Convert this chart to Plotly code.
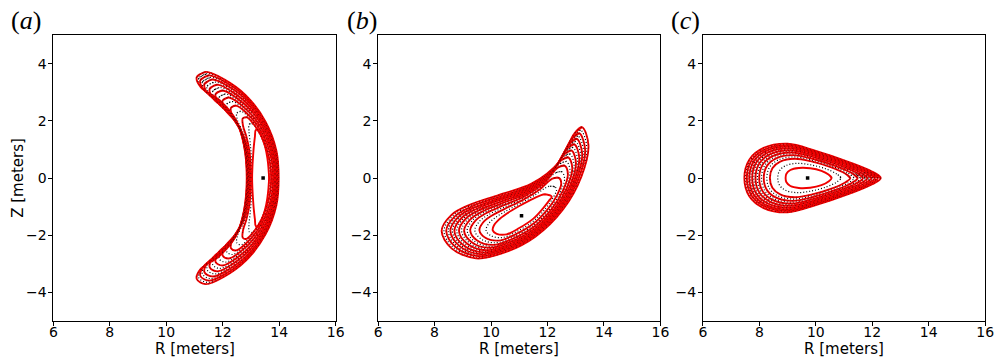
import plotly.graph_objects as go

# ---------------- data ----------------
# Panel (a): outermost surface (R, Z) and innermost surface (same point order)
A_OUT_R = [11.08, 11.40, 12.05, 12.82, 13.52, 13.90, 13.98, 13.90, 13.52, 12.82, 12.05,
           11.40, 11.08, 11.22, 11.89, 12.47, 12.75, 12.85, 12.75, 12.47, 11.89, 11.22]
A_OUT_Z = [3.53, 3.71, 3.45, 2.89, 1.96, 0.95, 0.00, -0.95, -1.96, -2.89, -3.45,
           -3.71, -3.53, -3.18, -2.72, -2.02, -1.15, 0.00, 1.15, 2.02, 2.72, 3.18]
A_IN_R = [13.17, 13.25, 13.38, 13.50, 13.58, 13.62, 13.64, 13.62, 13.58, 13.50, 13.38,
          13.25, 13.17, 13.14, 13.10, 13.07, 13.05, 13.04, 13.05, 13.07, 13.10, 13.14]
A_IN_Z = [1.68, 1.68, 1.45, 1.10, 0.70, 0.35, 0.00, -0.35, -0.70, -1.10, -1.45,
          -1.68, -1.68, -1.45, -1.10, -0.70, -0.35, 0.00, 0.35, 0.70, 1.10, 1.45]
A_AXIS = (13.43, 0.0)
A_LEVELS = [0.0, 0.22, 0.42, 0.56, 0.68, 0.78, 0.87, 0.94, 1.0]

# Panel (b)
B_OUT_R = [13.22, 12.95, 12.40, 11.45, 10.29, 9.24, 8.60, 8.25, 8.60, 9.47, 10.41,
           11.57, 12.55, 13.20, 13.45]
B_OUT_Z = [1.78, 1.55, 0.55, -0.19, -0.59, -0.94, -1.29, -1.85, -2.46, -2.81, -2.63,
           -2.05, -1.10, 0.05, 1.15]
B_IN_R = [12.12, 11.90, 11.50, 11.00, 10.55, 10.25, 10.10, 10.06, 10.20, 10.55, 11.00,
          11.50, 11.85, 12.05, 12.15]
B_IN_Z = [-0.62, -0.57, -0.72, -0.98, -1.25, -1.48, -1.66, -1.83, -1.95, -1.97, -1.75,
          -1.42, -1.05, -0.80, -0.66]
B_AXIS = (11.08, -1.32)
B_LEVELS = [0.0, 0.26, 0.44, 0.56, 0.66, 0.75, 0.83, 0.91, 1.0]

# Panel (c)
C_OUT_R = [12.30, 12.00, 11.20, 10.00, 9.00, 8.15, 7.65, 7.47, 7.65, 8.15, 9.00,
           10.00, 11.20, 12.00]
C_OUT_Z = [0.00, 0.22, 0.55, 0.95, 1.20, 1.05, 0.65, 0.00, -0.65, -1.05, -1.20,
           -0.95, -0.55, -0.22]
C_IN_R = [10.56, 10.45, 10.20, 9.80, 9.40, 9.10, 8.96, 8.93, 8.96, 9.10, 9.40,
          9.80, 10.20, 10.45]
C_IN_Z = [0.00, 0.12, 0.25, 0.34, 0.35, 0.28, 0.15, 0.00, -0.15, -0.28, -0.35,
          -0.34, -0.25, -0.12]
C_AXIS = (9.71, 0.0)
C_LEVELS = [0.0, 0.38, 0.53, 0.64, 0.73, 0.81, 0.88, 0.94, 1.0]

PANEL_LABELS = ["a", "b", "c"]
X_TICKS = [6, 8, 10, 12, 14, 16]
Y_TICKS = [-4, -2, 0, 2, 4]
Y_TICKTEXT = ["\u22124", "\u22122", "0", "2", "4"]
X_TITLE = "R [meters]"
Y_TITLE = "Z [meters]"

panels = [
    (A_OUT_R, A_OUT_Z, A_IN_R, A_IN_Z, A_AXIS, A_LEVELS),
    (B_OUT_R, B_OUT_Z, B_IN_R, B_IN_Z, B_AXIS, B_LEVELS),
    (C_OUT_R, C_OUT_Z, C_IN_R, C_IN_Z, C_AXIS, C_LEVELS),
]

W, H = 1008, 358
PLOT_X = [(50, 336), (379, 665), (708, 994)]
PLOT_TOP, PLOT_BOT = 35, 321


def surface(out_r, out_z, in_r, in_z, f):
    r = [a + f * (b - a) for a, b in zip(in_r, out_r)]
    z = [a + f * (b - a) for a, b in zip(in_z, out_z)]
    # wrap so the spline closes smoothly
    return r + r[:2], z + z[:2]


fig = go.Figure()
for i, (oR, oZ, iR, iZ, ax, levels) in enumerate(panels):
    xa = "x" if i == 0 else f"x{i+1}"
    ya = "y" if i == 0 else f"y{i+1}"
    # black dotted curves between the red ones
    for k in range(len(levels) - 1):
        f = 0.5 * (levels[k] + levels[k + 1])
        r, z = surface(oR, oZ, iR, iZ, f)
        fig.add_trace(go.Scatter(x=r, y=z, mode="lines", xaxis=xa, yaxis=ya,
                                 line=dict(color="black", width=1.2, dash="1px,2px",
                                           shape="spline", smoothing=1.0),
                                 hoverinfo="skip", showlegend=False))
    for f in levels:
        r, z = surface(oR, oZ, iR, iZ, f)
        fig.add_trace(go.Scatter(x=r, y=z, mode="lines", xaxis=xa, yaxis=ya,
                                 line=dict(color="#f00000", width=1.9,
                                           shape="spline", smoothing=1.0),
                                 hoverinfo="skip", showlegend=False))
    # dark points overlaid on the red curves, as in the mixed red/black Poincare points
    for f in levels[1:]:
        r, z = surface(oR, oZ, iR, iZ, f)
        fig.add_trace(go.Scatter(x=r, y=z, mode="lines", xaxis=xa, yaxis=ya,
                                 line=dict(color="rgba(40,0,0,0.6)", width=0.9, dash="1px,3px",
                                           shape="spline", smoothing=1.0),
                                 hoverinfo="skip", showlegend=False))
    fig.add_trace(go.Scatter(x=[ax[0]], y=[ax[1]], mode="markers", xaxis=xa, yaxis=ya,
                             marker=dict(symbol="square", size=3.5, color="black"),
                             hoverinfo="skip", showlegend=False))

tickfont = dict(family="DejaVu Sans", size=14, color="black")
titlefont = dict(family="DejaVu Sans", size=15, color="black")
layout = dict(width=W, height=H, margin=dict(l=0, r=0, t=0, b=0),
              paper_bgcolor="white", plot_bgcolor="white", showlegend=False)
for i in range(3):
    xk = "xaxis" if i == 0 else f"xaxis{i+1}"
    yk = "yaxis" if i == 0 else f"yaxis{i+1}"
    x0, x1 = PLOT_X[i]
    layout[xk] = dict(domain=[x0 / W, x1 / W], range=[6, 16], anchor="y" if i == 0 else f"y{i+1}",
                      tickvals=X_TICKS, ticktext=[str(v) for v in X_TICKS],
                      ticks="outside", ticklen=4, tickwidth=1, tickcolor="black",
                      ticklabelstandoff=-6,
                      showline=True, linecolor="black", linewidth=1, mirror=True,
                      showgrid=False, zeroline=False, tickfont=tickfont)
    layout[yk] = dict(domain=[1 - PLOT_BOT / H, 1 - PLOT_TOP / H], range=[-5, 5],
                      anchor="x" if i == 0 else f"x{i+1}",
                      tickvals=Y_TICKS, ticktext=Y_TICKTEXT,
                      ticks="outside", ticklen=4, tickwidth=1, tickcolor="black",
                      ticklabelstandoff=-1,
                      showline=True, linecolor="black", linewidth=1, mirror=True,
                      showgrid=False, zeroline=False, tickfont=tickfont)
    # x-axis title
    fig.add_annotation(x=(x0 + x1) / 2 / W, y=1 - 349 / H, xref="paper", yref="paper",
                       xanchor="center", yanchor="middle", showarrow=False,
                       text=X_TITLE, font=titlefont)
fig.update_layout(**layout)

fig.add_annotation(x=14 / W, y=1 - 178 / H, xref="paper", yref="paper",
                   xanchor="center", yanchor="middle", showarrow=False, textangle=-90,
                   text=Y_TITLE, font=titlefont)

label_x = [5, 345, 674]
for i, lab in enumerate(PANEL_LABELS):
    fig.add_annotation(x=label_x[i] / W, y=1 - 21 / H, xref="paper", yref="paper",
                       xanchor="left", yanchor="middle", showarrow=False,
                       text=f"(<i>{lab}</i>)",
                       font=dict(family="Liberation Serif", size=26, color="black"))

fig.write_html("out.html")
